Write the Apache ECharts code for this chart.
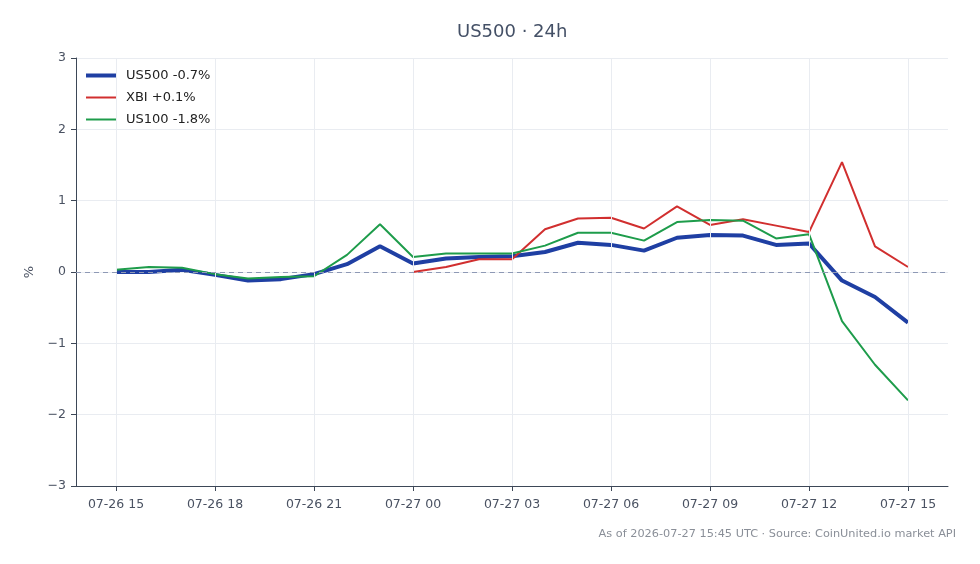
<!DOCTYPE html>
<html>
<head>
<meta charset="utf-8">
<script src="https://cdn.jsdelivr.net/npm/echarts@6/dist/echarts.min.js"></script>
<style>
  html, body { margin: 0; padding: 0; background: #fff; }
  #chart { width: 980px; height: 564px; }
</style>
</head>
<body>
<div id="chart"></div>
<script>
// hourly timestamps (UTC)
const hours = [
  '07-26 15', '07-26 16', '07-26 17', '07-26 18', '07-26 19', '07-26 20', '07-26 21',
  '07-26 22', '07-26 23', '07-27 00', '07-27 01', '07-27 02', '07-27 03', '07-27 04',
  '07-27 05', '07-27 06', '07-27 07', '07-27 08', '07-27 09', '07-27 10', '07-27 11',
  '07-27 12', '07-27 13', '07-27 14', '07-27 15'
]
const tickIdx = [0, 3, 6, 9, 12, 15, 18, 21, 24]

// % change vs. start of window
const us500 = [0, 0.0, 0.03, -0.04, -0.12, -0.10, -0.03, 0.11, 0.36, 0.12, 0.19, 0.21, 0.22,
  0.28, 0.41, 0.38, 0.30, 0.48, 0.52, 0.51, 0.38, 0.40, -0.12, -0.35, -0.71]
// XBI only starts trading at 07-27 00
const xbi = [null, null, null, null, null, null, null, null, null, 0.0, 0.07, 0.18, 0.18,
  0.60, 0.75, 0.76, 0.61, 0.92, 0.66, 0.74, 0.65, 0.56, 1.54, 0.36, 0.07]
const us100 = [0.03, 0.07, 0.06, -0.03, -0.09, -0.07, -0.06, 0.24, 0.67, 0.21, 0.26, 0.26, 0.26,
  0.37, 0.55, 0.55, 0.44, 0.70, 0.73, 0.72, 0.47, 0.53, -0.69, -1.30, -1.80]

const toPts = arr => arr.map((v, i) => [i, v])
const pad = 40 / 33

const chart = echarts.init(document.getElementById('chart'))

const font = 'DejaVu Sans'
const gridColor = '#e9ecf1'
const axisColor = '#3d4757'
const labelColor = '#4a5262'
const colors = { us500: '#1f3fa3', xbi: '#d12f2f', us100: '#1e9c4b' }

const legendBase = {
  orient: 'vertical',
  left: 86,
  padding: 0,
  icon: 'rect',
  itemWidth: 30,
  itemStyle: { borderWidth: 0 },
  textStyle: { fontSize: 13, color: '#222', fontFamily: font, padding: [0, 0, 0, 5] }
}

chart.setOption({
  animation: false,
  textStyle: { fontFamily: font },
  grid: { left: 76, right: 32, top: 58, bottom: 78 },
  graphic: [
    {
      type: 'text', left: 512 - 55, top: 23,
      style: { text: 'US500 · 24h', fontSize: 18, fill: '#445066', fontFamily: font }
    },
    {
      type: 'text', right: 24, top: 529,
      style: { text: 'As of 2026-07-27 15:45 UTC · Source: CoinUnited.io market API', fontSize: 11.3, fill: '#8a8f98', fontFamily: font }
    }
  ],
  // thick swatch for US500, thin for the others
  legend: [
    Object.assign({}, legendBase, { top: 69, itemHeight: 4, data: ['US500 -0.7%'] }),
    Object.assign({}, legendBase, { top: 91, itemHeight: 2, itemGap: 9, data: ['XBI +0.1%', 'US100 -1.8%'] })
  ],
  xAxis: {
    type: 'value',
    min: -pad,
    max: 24 + pad,
    axisLine: { show: true, onZero: false, lineStyle: { color: axisColor, width: 1 } },
    axisTick: { show: true, customValues: tickIdx, length: 5, lineStyle: { color: axisColor } },
    axisLabel: {
      customValues: tickIdx, color: labelColor, fontSize: 12.5, margin: 12,
      formatter: v => hours[Math.round(v)]
    },
    splitLine: { show: false }
  },
  yAxis: {
    type: 'value',
    min: -3,
    max: 3,
    interval: 1,
    name: '%',
    nameLocation: 'middle',
    nameRotate: 90,
    nameGap: 40,
    nameTextStyle: { fontSize: 13, color: labelColor },
    axisLine: { show: true, onZero: false, lineStyle: { color: axisColor, width: 1 } },
    axisTick: { show: true, length: 5, lineStyle: { color: axisColor } },
    axisLabel: {
      color: labelColor, fontSize: 12.5, margin: 10,
      formatter: v => (v < 0 ? '\u2212' + Math.abs(v) : String(v))
    },
    splitLine: { show: true, lineStyle: { color: gridColor, width: 1 } }
  },
  series: [
    // vertical grid lines at labelled hours
    {
      type: 'line',
      data: [],
      silent: true,
      markLine: {
        silent: true,
        symbol: 'none',
        label: { show: false },
        lineStyle: { color: gridColor, type: 'solid', width: 1 },
        data: tickIdx.map(i => ({ xAxis: i }))
      }
    },
    {
      name: 'US500 -0.7%',
      type: 'line',
      data: toPts(us500),
      showSymbol: false,
      symbol: 'none',
      lineStyle: { color: colors.us500, width: 4 },
      itemStyle: { color: colors.us500 },
      markLine: {
        silent: true,
        symbol: 'none',
        label: { show: false },
        lineStyle: { color: '#8e99b5', type: [5, 4], width: 1 },
        data: [{ yAxis: 0 }]
      }
    },
    {
      name: 'XBI +0.1%',
      type: 'line',
      data: toPts(xbi),
      showSymbol: false,
      symbol: 'none',
      lineStyle: { color: colors.xbi, width: 2 },
      itemStyle: { color: colors.xbi }
    },
    {
      name: 'US100 -1.8%',
      type: 'line',
      data: toPts(us100),
      showSymbol: false,
      symbol: 'none',
      lineStyle: { color: colors.us100, width: 2 },
      itemStyle: { color: colors.us100 }
    }
  ]
})
</script>
</body>
</html>
